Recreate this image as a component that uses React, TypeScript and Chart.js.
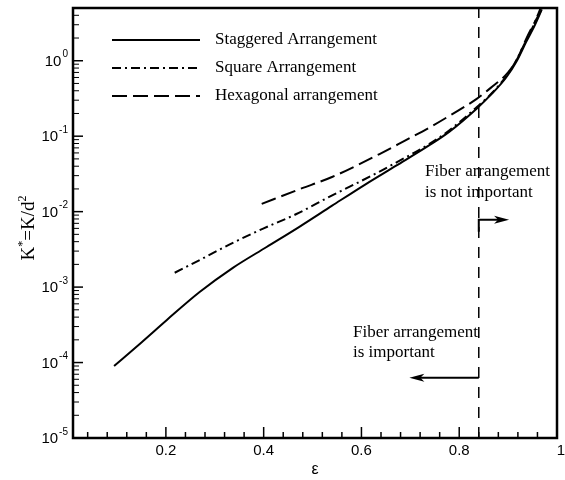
import React, { useEffect, useRef } from "react";
import { Chart, registerables } from "chart.js";

Chart.register(...registerables);

// ---- data ----
const staggeredEps = [0.094, 0.15, 0.202, 0.269, 0.337, 0.406, 0.473, 0.54, 0.61, 0.671, 0.739, 0.78, 0.835, 0.865, 0.896, 0.918, 0.937, 0.955, 0.969];
const staggeredK = [9e-5, 1.85e-4, 3.67e-4, 8.6e-4, 1.8e-3, 3.4e-3, 6.3e-3, 0.012, 0.0234, 0.0407, 0.076, 0.115, 0.23, 0.355, 0.6, 1.0, 1.78, 3.0, 4.8];

const squareEps = [0.218, 0.27, 0.337, 0.4, 0.467, 0.535, 0.576, 0.637, 0.671, 0.739, 0.78, 0.835, 0.865, 0.896, 0.918, 0.937, 0.952, 0.966];
const squareK = [1.55e-3, 2.3e-3, 3.86e-3, 6.0e-3, 9.3e-3, 0.0158, 0.0214, 0.0339, 0.0447, 0.079, 0.12, 0.24, 0.363, 0.62, 1.05, 1.86, 2.95, 4.9];

const hexEps = [0.396, 0.473, 0.541, 0.637, 0.69, 0.739, 0.785, 0.835, 0.865, 0.9, 0.92, 0.937, 0.955, 0.969];
const hexK = [0.0127, 0.0198, 0.029, 0.058, 0.088, 0.13, 0.195, 0.31, 0.44, 0.7, 1.1, 1.95, 3.3, 4.8];

const seriesNames = ["Staggered Arrangement", "Square Arrangement", "Hexagonal arrangement"];

const thresholdEps = 0.84;
const xMin = 0.01;
const xMax = 1;
const yMin = 1e-5;
const yMax = 5;

const xMajorTicks = [0.2, 0.4, 0.6, 0.8, 1];
const xTickLabels = ["0.2", "0.4", "0.6", "0.8", "1"];
const yExponents = [0, -1, -2, -3, -4, -5];

const noteTop = ["Fiber arrangement", "is not important"];
const noteBottom = ["Fiber arrangement", "is important"];
// arrow anchors (data coords)
const arrowRightStart = { x: 0.84, y: 5.4e-3 };
const arrowRightCorner = { x: 0.84, y: 7.8e-3 };
const arrowRightEnd = { x: 0.902, y: 7.8e-3 };
const arrowLeftStart = { x: 0.84, y: 6.3e-5 };
const arrowLeftEnd = { x: 0.698, y: 6.3e-5 };

const pts = (xs: number[], ys: number[]) => xs.map((x, i) => ({ x, y: ys[i] }));

const dashDot = [9, 4, 2, 4];
const dashed = [15, 6];

const SANS = "'Liberation Sans', Arial, sans-serif";
const SERIF = "'Liberation Serif', 'Times New Roman', serif";

const overlay = {
  id: "overlay",
  afterDatasetsDraw(chart: any) {
    const ctx = chart.ctx as CanvasRenderingContext2D;
    const xs = chart.scales.x;
    const ys = chart.scales.y;
    const ca = chart.chartArea;
    ctx.save();
    ctx.strokeStyle = "#000";
    ctx.fillStyle = "#000";

    // ticks
    ctx.lineWidth = 1.5;
    for (let v = 0.04; v < 1.0001; v += 0.04) {
      const vv = Math.round(v * 100) / 100;
      if (vv < xMin || vv > xMax) continue;
      const isMajor = Math.abs(vv * 10 - Math.round(vv * 10)) < 1e-6 && Math.round(vv * 10) % 2 === 0;
      const px = xs.getPixelForValue(vv);
      ctx.beginPath();
      ctx.moveTo(px, ca.bottom);
      ctx.lineTo(px, ca.bottom - (isMajor ? 11 : 6));
      ctx.stroke();
    }
    for (let e = -5; e <= 0; e++) {
      for (let m = 1; m <= 9; m++) {
        const val = m * Math.pow(10, e);
        if (val < yMin || val > yMax) continue;
        const py = ys.getPixelForValue(val);
        ctx.lineWidth = m === 1 ? 1.5 : 1;
        ctx.beginPath();
        ctx.moveTo(ca.left, py);
        ctx.lineTo(ca.left + (m === 1 ? 10 : 6), py);
        ctx.stroke();
      }
    }

    // frame
    ctx.lineWidth = 2.5;
    ctx.strokeRect(ca.left, ca.top, ca.right - ca.left, ca.bottom - ca.top);

    // x tick labels
    ctx.font = `15px ${SANS}`;
    ctx.textAlign = "center";
    ctx.textBaseline = "middle";
    xMajorTicks.forEach((v, i) => {
      ctx.fillText(xTickLabels[i], xs.getPixelForValue(v) + (v === 1 ? 4 : 0), ca.bottom + 13);
    });
    // x title
    ctx.font = `16px ${SANS}`;
    ctx.fillText("ε", (ca.left + ca.right) / 2, ca.bottom + 32);

    // y tick labels
    yExponents.forEach((e) => {
      const py = ys.getPixelForValue(Math.pow(10, e));
      const sup = String(e);
      ctx.font = `10px ${SANS}`;
      ctx.textAlign = "right";
      ctx.textBaseline = "middle";
      const supW = ctx.measureText(sup).width;
      ctx.fillText(sup, ca.left - 5, py - 6);
      ctx.font = `15px ${SANS}`;
      ctx.fillText("10", ca.left - 6 - supW, py + 1);
    });

    // y title (rotated, with superscripts)
    ctx.save();
    ctx.translate(27, 228);
    ctx.rotate(-Math.PI / 2);
    ctx.textBaseline = "alphabetic";
    ctx.textAlign = "left";
    const parts: [string, boolean][] = [["K", false], ["*", true], ["=K/d", false], ["2", true]];
    let total = 0;
    parts.forEach(([t, s]) => {
      ctx.font = s ? `12px ${SERIF}` : `19px ${SERIF}`;
      total += ctx.measureText(t).width;
    });
    let cx = -total / 2;
    parts.forEach(([t, s]) => {
      ctx.font = s ? `12px ${SERIF}` : `19px ${SERIF}`;
      ctx.fillText(t, cx, s ? -1 : 7);
      cx += ctx.measureText(t).width;
    });
    ctx.restore();

    // legend
    const legendY = [40, 68, 96];
    const dashes = [[], dashDot, dashed];
    ctx.lineWidth = 2;
    legendY.forEach((ly, i) => {
      ctx.setLineDash(dashes[i] as number[]);
      ctx.beginPath();
      ctx.moveTo(112, ly);
      ctx.lineTo(200, ly);
      ctx.stroke();
    });
    ctx.setLineDash([]);
    ctx.font = `17px ${SERIF}`;
    ctx.textAlign = "left";
    ctx.textBaseline = "middle";
    legendY.forEach((ly, i) => ctx.fillText(seriesNames[i], 215, ly));

    // notes
    ctx.fillText(noteTop[0], 425, 172);
    ctx.fillText(noteTop[1], 425, 193);
    ctx.fillText(noteBottom[0], 353, 333);
    ctx.fillText(noteBottom[1], 353, 353);

    // arrows
    const arrowHead = (tx: number, ty: number, dir: number) => {
      ctx.beginPath();
      ctx.moveTo(tx, ty);
      ctx.lineTo(tx - dir * 15, ty - 4);
      ctx.lineTo(tx - dir * 11, ty);
      ctx.lineTo(tx - dir * 15, ty + 4);
      ctx.closePath();
      ctx.fill();
    };
    ctx.lineWidth = 2;
    const p = (o: { x: number; y: number }) => [xs.getPixelForValue(o.x), ys.getPixelForValue(o.y)];
    const [a0x, a0y] = p(arrowRightStart);
    const [a1x, a1y] = p(arrowRightCorner);
    const [a2x, a2y] = p(arrowRightEnd);
    ctx.beginPath();
    ctx.moveTo(a0x, a0y);
    ctx.lineTo(a1x, a1y);
    ctx.lineTo(a2x - 10, a2y);
    ctx.stroke();
    arrowHead(a2x, a2y, 1);
    const [b0x, b0y] = p(arrowLeftStart);
    const [b1x, b1y] = p(arrowLeftEnd);
    ctx.beginPath();
    ctx.moveTo(b0x, b0y);
    ctx.lineTo(b1x + 10, b1y);
    ctx.stroke();
    arrowHead(b1x, b1y, -1);

    ctx.restore();
  },
};

export default function App() {
  const ref = useRef<HTMLCanvasElement>(null);
  useEffect(() => {
    if (!ref.current) return;
    const chart = new Chart(ref.current, {
      type: "line",
      data: {
        datasets: [
          {
            label: seriesNames[0],
            data: pts(staggeredEps, staggeredK),
            borderColor: "#000",
            borderWidth: 2,
            pointRadius: 0,
            cubicInterpolationMode: "monotone",
          },
          {
            label: seriesNames[1],
            data: pts(squareEps, squareK),
            borderColor: "#000",
            borderWidth: 2,
            borderDash: dashDot,
            pointRadius: 0,
            cubicInterpolationMode: "monotone",
          },
          {
            label: seriesNames[2],
            data: pts(hexEps, hexK),
            borderColor: "#000",
            borderWidth: 2,
            borderDash: dashed,
            pointRadius: 0,
            cubicInterpolationMode: "monotone",
          },
          {
            label: "threshold",
            data: [
              { x: thresholdEps, y: yMin },
              { x: thresholdEps, y: yMax },
            ],
            borderColor: "#000",
            borderWidth: 1.5,
            borderDash: [11, 9],
            pointRadius: 0,
          },
        ],
      },
      options: {
        animation: false,
        responsive: false,
        maintainAspectRatio: false,
        layout: { padding: { top: 8, right: 8, left: 0, bottom: 0 } },
        plugins: { legend: { display: false }, tooltip: { enabled: false } },
        scales: {
          x: {
            type: "linear",
            min: xMin,
            max: xMax,
            ticks: { display: false },
            grid: { display: false, drawTicks: false },
            border: { display: false },
            afterFit: (s: any) => {
              s.height = 42;
            },
          },
          y: {
            type: "logarithmic",
            min: yMin,
            max: yMax,
            ticks: { display: false },
            grid: { display: false, drawTicks: false },
            border: { display: false },
            afterFit: (s: any) => {
              s.width = 73;
            },
          },
        },
      },
      plugins: [overlay],
    } as any);
    return () => chart.destroy();
  }, []);
  return (
    <div style={{ position: "absolute", left: 0, top: 0, width: 565, height: 480, background: "#fff" }}>
      <canvas ref={ref} width={565} height={480} style={{ display: "block" }} />
    </div>
  );
}
